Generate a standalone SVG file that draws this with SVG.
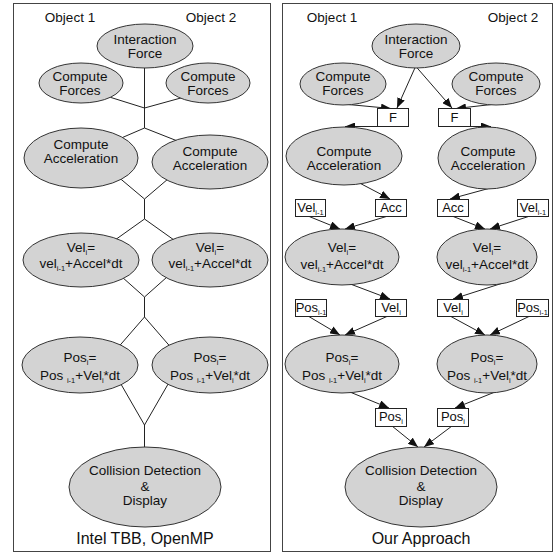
<svg xmlns="http://www.w3.org/2000/svg" width="557" height="554" viewBox="0 0 557 554">
<defs>
<marker id="ah" viewBox="0 0 10 8" refX="10" refY="4" markerWidth="10" markerHeight="8" orient="auto" markerUnits="userSpaceOnUse"><path d="M0,0 L10,4 L0,8 z" fill="#111"/></marker>
<style>
.panel{fill:#fff;stroke:#444;stroke-width:1}
.el{fill:#d3d3d3;stroke:#333;stroke-width:1}
.bx{fill:#fff;stroke:#222;stroke-width:1}
.ln{fill:none;stroke:#222;stroke-width:1}
.ar{fill:none;stroke:#222;stroke-width:1;marker-end:url(#ah)}
text{font-family:"Liberation Sans",Arial,sans-serif;font-size:13.5px;fill:#111;text-anchor:middle}
.t16{font-size:16px}
.bt{font-size:13px}
.sb{font-size:7.5px}
</style>
</defs>
<rect class="panel" x="13.5" y="3.5" width="257" height="548"/>
<rect class="panel" x="282.5" y="3.5" width="270" height="548"/>
<text x="70" y="22">Object 1</text>
<text x="211" y="22">Object 2</text>
<text x="332" y="22">Object 1</text>
<text x="513" y="22">Object 2</text>
<text class="t16" x="145" y="544">Intel TBB, OpenMP</text>
<text class="t16" x="421" y="544">Our Approach</text>

<g id="connectors">
<!-- left panel -->
<path class="ln" d="M144.5,60 V128"/>
<path class="ln" d="M103,95 L144.5,108 L188,96"/>
<path class="ln" d="M112,142 L144.5,128 L180,142"/>
<path class="ln" d="M110,170 L144.5,199 L175,173"/>
<path class="ln" d="M144.5,199 V219"/>
<path class="ln" d="M115,240 L144.5,219 L174,240"/>
<path class="ln" d="M113,269 L144.5,297 L176,269"/>
<path class="ln" d="M144.5,297 V317"/>
<path class="ln" d="M115,351 L144.5,317 L174,351"/>
<path class="ln" d="M118,379 L144.5,425 L171,379"/>
<path class="ln" d="M144.5,425 V452"/>
<!-- right panel -->
<path class="ar" d="M418,61 L397,108"/>
<path class="ar" d="M412,62 L452,108"/>
<path class="ar" d="M343,104 L391,108.5"/>
<path class="ar" d="M496,104 L456,108.5"/>
<path class="ar" d="M377,126.5 L345,126.5"/>
<path class="ar" d="M470,126.5 L491,126.5"/>
<path class="ar" d="M350,178 L390,199"/>
<path class="ar" d="M494,187 L450,199"/>
<path class="ar" d="M308,216 L340,229"/>
<path class="ar" d="M388,216 L345,229"/>
<path class="ar" d="M452,216 L485,229"/>
<path class="ar" d="M530,216 L490,229"/>
<path class="ar" d="M345,282 L390,299"/>
<path class="ar" d="M506,282 L453,299"/>
<path class="ar" d="M308,316 L340,335"/>
<path class="ar" d="M388,316 L345,335"/>
<path class="ar" d="M450,316 L485,335"/>
<path class="ar" d="M530,316 L490,335"/>
<path class="ar" d="M345,390 L389,408"/>
<path class="ar" d="M500,390 L455,408"/>
<path class="ar" d="M392,426 L418,447"/>
<path class="ar" d="M452,426 L424,447"/>
</g>

<!-- left panel nodes -->
<g id="L_interaction"><ellipse class="el" cx="145" cy="46" rx="48" ry="22"/><text x="145" y="44">Interaction</text><text x="145" y="58">Force</text></g>
<g id="L_forces1"><ellipse class="el" cx="81" cy="83" rx="42" ry="20"/><text x="80" y="81">Compute</text><text x="80" y="95">Forces</text></g>
<g id="L_forces2"><ellipse class="el" cx="208" cy="83" rx="42" ry="20"/><text x="208" y="81">Compute</text><text x="208" y="95">Forces</text></g>
<g id="L_accel1"><ellipse class="el" cx="81" cy="158" rx="57" ry="30"/><text x="81" y="149">Compute</text><text x="81" y="163">Acceleration</text></g>
<g id="L_accel2"><ellipse class="el" cx="210" cy="162" rx="58" ry="27"/><text x="210" y="156">Compute</text><text x="210" y="170">Acceleration</text></g>
<g id="L_vel1"><ellipse class="el" cx="81" cy="260" rx="58" ry="27"/><text x="81" y="252">Vel<tspan class="sb" dy="3">i</tspan><tspan dy="-3">=</tspan></text><text x="81" y="268">vel<tspan class="sb" dy="3">i-1</tspan><tspan dy="-3">+Accel*dt</tspan></text></g>
<g id="L_vel2"><ellipse class="el" cx="210" cy="260" rx="58" ry="27"/><text x="210" y="252">Vel<tspan class="sb" dy="3">i</tspan><tspan dy="-3">=</tspan></text><text x="210" y="268">vel<tspan class="sb" dy="3">i-1</tspan><tspan dy="-3">+Accel*dt</tspan></text></g>
<g id="L_pos1"><ellipse class="el" cx="80" cy="365" rx="58" ry="28"/><text x="80" y="362">Pos<tspan class="sb" dy="3">i</tspan><tspan dy="-3">=</tspan></text><text x="80" y="380">Pos <tspan class="sb" dy="3">i-1</tspan><tspan dy="-3">+Vel</tspan><tspan class="sb" dy="3">i</tspan><tspan dy="-3">*dt</tspan></text></g>
<g id="L_pos2"><ellipse class="el" cx="210" cy="365" rx="58" ry="28"/><text x="210" y="362">Pos<tspan class="sb" dy="3">i</tspan><tspan dy="-3">=</tspan></text><text x="210" y="380">Pos <tspan class="sb" dy="3">i-1</tspan><tspan dy="-3">+Vel</tspan><tspan class="sb" dy="3">i</tspan><tspan dy="-3">*dt</tspan></text></g>
<g id="L_collision"><ellipse class="el" cx="145" cy="487" rx="76" ry="40"/><text x="145" y="475">Collision Detection</text><text x="145" y="491">&amp;</text><text x="145" y="505">Display</text></g>

<!-- right panel nodes -->
<g id="R_interaction"><ellipse class="el" cx="416" cy="46" rx="44" ry="22"/><text x="416" y="44">Interaction</text><text x="416" y="58">Force</text></g>
<g id="R_forces1"><ellipse class="el" cx="343" cy="84" rx="43" ry="21"/><text x="343" y="81">Compute</text><text x="343" y="95">Forces</text></g>
<g id="R_forces2"><ellipse class="el" cx="496" cy="84" rx="44" ry="21"/><text x="496" y="81">Compute</text><text x="496" y="95">Forces</text></g>
<g id="R_F1"><rect class="bx" x="377.5" y="108.5" width="31" height="18"/><text class="bt" x="393" y="122">F</text></g>
<g id="R_F2"><rect class="bx" x="438.5" y="108.5" width="32" height="18"/><text class="bt" x="454.5" y="122">F</text></g>
<g id="R_accel1"><ellipse class="el" cx="344" cy="156" rx="58" ry="29"/><text x="344" y="156">Compute</text><text x="344" y="170">Acceleration</text></g>
<g id="R_accel2"><ellipse class="el" cx="487" cy="158" rx="49" ry="31"/><text x="488" y="156">Compute</text><text x="488" y="170">Acceleration</text></g>
<g id="R_velm1"><rect class="bx" x="295.5" y="199.5" width="30" height="17"/><text class="bt" x="310.5" y="212">Vel<tspan class="sb" dy="3">i-1</tspan></text></g>
<g id="R_acc1"><rect class="bx" x="375.5" y="199.5" width="31" height="17"/><text class="bt" x="391" y="212">Acc</text></g>
<g id="R_acc2"><rect class="bx" x="437.5" y="199.5" width="31" height="17"/><text class="bt" x="453" y="212">Acc</text></g>
<g id="R_velm2"><rect class="bx" x="517.5" y="199.5" width="31" height="17"/><text class="bt" x="533" y="212">Vel<tspan class="sb" dy="3">i-1</tspan></text></g>
<g id="R_vel1"><ellipse class="el" cx="342" cy="257" rx="57" ry="28"/><text x="342" y="252">Vel<tspan class="sb" dy="3">i</tspan><tspan dy="-3">=</tspan></text><text x="342" y="269">vel<tspan class="sb" dy="3">i-1</tspan><tspan dy="-3">+Accel*dt</tspan></text></g>
<g id="R_vel2"><ellipse class="el" cx="487" cy="257" rx="50" ry="28"/><text x="487" y="252">Vel<tspan class="sb" dy="3">i</tspan><tspan dy="-3">=</tspan></text><text x="487" y="269">vel<tspan class="sb" dy="3">i-1</tspan><tspan dy="-3">+Accel*dt</tspan></text></g>
<g id="R_posm1"><rect class="bx" x="295.5" y="299.5" width="31" height="17"/><text class="bt" x="311" y="312">Pos<tspan class="sb" dy="3">i-1</tspan></text></g>
<g id="R_veli1"><rect class="bx" x="375.5" y="299.5" width="31" height="17"/><text class="bt" x="391" y="312">Vel<tspan class="sb" dy="3">i</tspan></text></g>
<g id="R_veli2"><rect class="bx" x="437.5" y="299.5" width="31" height="17"/><text class="bt" x="453" y="312">Vel<tspan class="sb" dy="3">i</tspan></text></g>
<g id="R_posm2"><rect class="bx" x="516.5" y="299.5" width="32" height="17"/><text class="bt" x="532.5" y="312">Pos<tspan class="sb" dy="3">i-1</tspan></text></g>
<g id="R_pos1"><ellipse class="el" cx="342" cy="364" rx="57" ry="29"/><text x="342" y="362">Pos<tspan class="sb" dy="3">i</tspan><tspan dy="-3">=</tspan></text><text x="342" y="380">Pos <tspan class="sb" dy="3">i-1</tspan><tspan dy="-3">+Vel</tspan><tspan class="sb" dy="3">i</tspan><tspan dy="-3">*dt</tspan></text></g>
<g id="R_pos2"><ellipse class="el" cx="487" cy="364" rx="50" ry="29"/><text x="487" y="362">Pos<tspan class="sb" dy="3">i</tspan><tspan dy="-3">=</tspan></text><text x="487" y="380">Pos <tspan class="sb" dy="3">i-1</tspan><tspan dy="-3">+Vel</tspan><tspan class="sb" dy="3">i</tspan><tspan dy="-3">*dt</tspan></text></g>
<g id="R_posi1"><rect class="bx" x="375.5" y="408.5" width="31" height="18"/><text class="bt" x="391" y="421">Pos<tspan class="sb" dy="3">i</tspan></text></g>
<g id="R_posi2"><rect class="bx" x="437.5" y="408.5" width="31" height="18"/><text class="bt" x="453" y="421">Pos<tspan class="sb" dy="3">i</tspan></text></g>
<g id="R_collision"><ellipse class="el" cx="421" cy="487" rx="76" ry="40"/><text x="421" y="475">Collision Detection</text><text x="421" y="491">&amp;</text><text x="421" y="505">Display</text></g>
</svg>
